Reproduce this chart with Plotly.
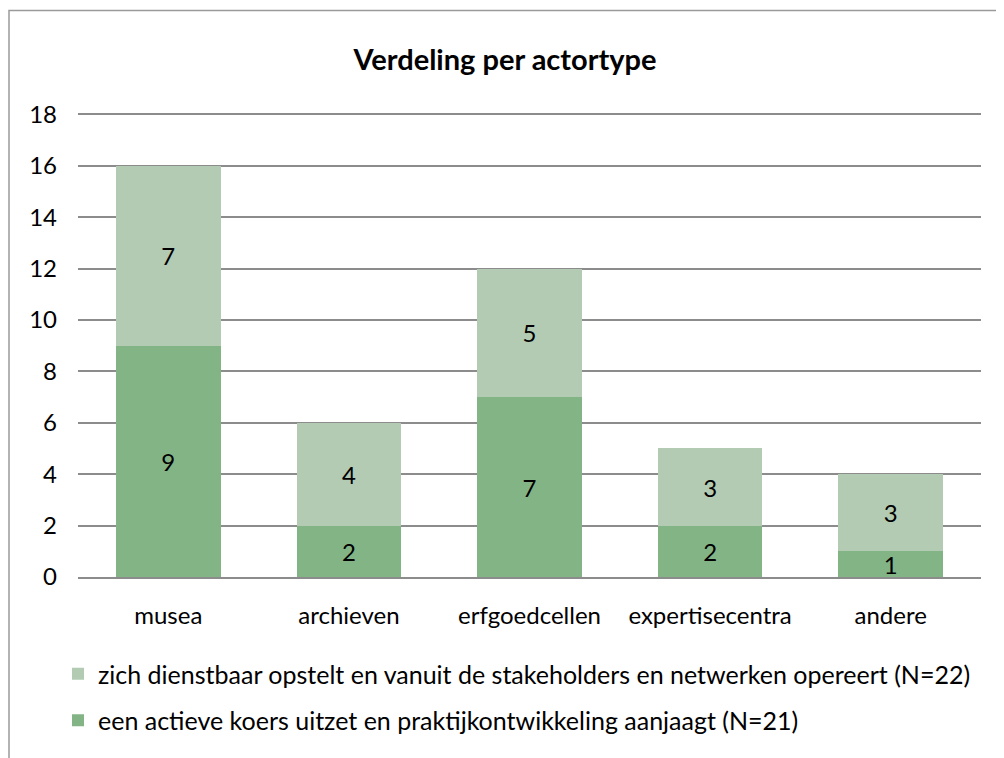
import plotly.graph_objects as go

categories = ["musea", "archieven", "erfgoedcellen", "expertisecentra", "andere"]
actief = [9, 2, 7, 2, 1]
dienstbaar = [7, 4, 5, 3, 3]
name_actief = "een actieve koers uitzet en praktijkontwikkeling aanjaagt (N=21)"
name_dienstbaar = "zich dienstbaar opstelt en vanuit de stakeholders en netwerken opereert (N=22)"
y_ticks = list(range(0, 20, 2))

FONT = "Lato, 'Open Sans', sans-serif"

fig = go.Figure()
fig.add_trace(go.Bar(
    x=categories, y=actief, name=name_actief,
    marker=dict(color="#83B486", line=dict(width=0)),
    text=actief, textposition="inside", insidetextanchor="middle",
    textangle=0, constraintext="none",
    textfont=dict(size=24, color="black", family=FONT),
    legendgroup="a", legendrank=2,
))
fig.add_trace(go.Bar(
    x=categories, y=dienstbaar, name=name_dienstbaar,
    marker=dict(color="#B3CBB3", line=dict(width=0)),
    text=dienstbaar, textposition="inside", insidetextanchor="middle",
    textangle=0, constraintext="none",
    textfont=dict(size=24, color="black", family=FONT),
    legendgroup="b", legendrank=1,
))

# chart border (extends off the page on the right and bottom)
fig.add_shape(type="rect", xref="paper", yref="paper",
              x0=(1 - 70) / 903, x1=1.06, y0=-0.45, y1=(569 - 2.5) / 464,
              line=dict(color="#9a9a9a", width=1.5), layer="below")

fig.update_layout(
    width=1004, height=758,
    barmode="stack", bargap=0.42,
    plot_bgcolor="white", paper_bgcolor="white",
    margin=dict(l=70, r=31, t=105, b=189, autoexpand=False),
    font=dict(family=FONT, size=24, color="black"),
    title=dict(text="<b>Verdeling per actortype</b>", x=497 / 1004, xref="container",
               xanchor="center",
               y=1 - 52 / 758, yref="container", yanchor="middle",
               font=dict(size=29, family=FONT, color="black")),
    showlegend=True,
    legend=dict(orientation="v", traceorder="grouped", tracegroupgap=11,
                x=50 / 1004, xref="container", xanchor="left",
                y=1 - 643 / 758, yref="container", yanchor="top",
                font=dict(size=25, family=FONT), itemwidth=30,
                bgcolor="rgba(0,0,0,0)"),
)
fig.update_yaxes(range=[0, 18.05], tickvals=y_ticks, showgrid=True,
                 gridcolor="#8c8c8c", gridwidth=1.5, zeroline=False,
                 showline=False, ticks="", ticklabelstandoff=20,
                 tickfont=dict(size=24), automargin=False)
fig.update_xaxes(showline=True, linecolor="#8c8c8c", linewidth=1.5, ticks="",
                 tickfont=dict(size=24), ticklabelstandoff=16, automargin=False)

fig.write_html("out.html")
